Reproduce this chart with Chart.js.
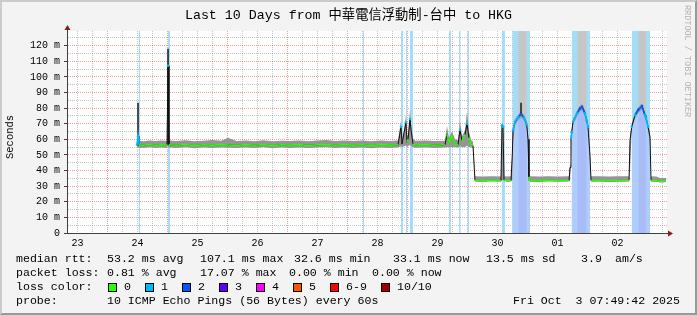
<!DOCTYPE html>
<html>
<head>
<meta charset="utf-8">
<script src="https://cdn.jsdelivr.net/npm/chart.js@4.4.1/dist/chart.umd.min.js"></script>
<style>
  html, body { margin: 0; padding: 0; background: #f3f3f3; }
  #frame { position: relative; width: 697px; height: 315px; background: #f3f3f3; overflow: hidden;
           font-family: "Liberation Mono", "DejaVu Sans Mono", monospace; color: #000; }
  #frame canvas { position: absolute; left: 0; top: 0; }
  .shade { position: absolute; left: 0; top: 0; width: 697px; height: 315px; box-sizing: border-box;
           border: 2px solid; border-color: #cbcbcb #999 #999 #cbcbcb; pointer-events: none; }
  .title { position: absolute; left: 0; top: 8px; width: 697px; text-align: center; font-size: 13.3px; line-height: 16px;
           font-family: "Liberation Mono", "Noto Sans CJK TC", monospace; white-space: pre; }
  .ylabel { position: absolute; left: 10px; top: 137px; font-size: 10.5px; white-space: nowrap;
            transform: translate(-50%, -50%) rotate(-90deg); }
  .credit { position: absolute; left: 682px; top: 5px; writing-mode: vertical-rl; font-size: 8.5px; color: #b4b4b4; white-space: pre; }
  .t { position: absolute; font-size: 11.6px; line-height: 14px; white-space: pre; }
  .sw { position: absolute; top: 283px; width: 7px; height: 7px; border: 1px solid #000; }
</style>
</head>
<body>
<div id="frame">
  <canvas id="chart" width="697" height="315"></canvas>
  <div class="title">Last 10 Days from 中華電信浮動制-台中 to HKG</div>
  <div class="ylabel">Seconds</div>
  <div class="credit">RRDTOOL / TOBI OETIKER</div>

  <span class="t" style="left:16px;top:252px">median rtt:</span>
  <span class="t" style="left:107px;top:252px">53.2 ms avg</span>
  <span class="t" style="left:200px;top:252px">107.1 ms max</span>
  <span class="t" style="left:294px;top:252px">32.6 ms min</span>
  <span class="t" style="left:393px;top:252px">33.1 ms now</span>
  <span class="t" style="left:486px;top:252px">13.5 ms sd</span>
  <span class="t" style="left:581px;top:252px">3.9</span>
  <span class="t" style="left:615px;top:252px">am/s</span>

  <span class="t" style="left:16px;top:266px">packet loss:</span>
  <span class="t" style="left:107px;top:266px">0.81 % avg</span>
  <span class="t" style="left:200px;top:266px">17.07 % max</span>
  <span class="t" style="left:289px;top:266px">0.00 % min</span>
  <span class="t" style="left:372px;top:266px">0.00 % now</span>

  <span class="t" style="left:16px;top:280px">loss color:</span>
  <div id="swatches"></div>

  <span class="t" style="left:16px;top:294px">probe:</span>
  <span class="t" style="left:107px;top:294px">10 ICMP Echo Pings (56 Bytes) every 60s</span>
  <span class="t" style="left:513px;top:294px">Fri Oct  3 07:49:42 2025</span>

  <div class="shade"></div>
</div>
<script>
// x values are fractional days since 23 Sep 00:00, window ends Fri Oct 3 07:49:42
const xStart = 0.3262;
const xEnd = 10.3262;
const yMax = 129.4;

const dayLabels = ['23', '24', '25', '26', '27', '28', '29', '30', '01', '02'];
const yLabels = ['0', '10 m', '20 m', '30 m', '40 m', '50 m', '60 m', '70 m', '80 m', '90 m', '100 m', '110 m', '120 m'];

const times = [
  1.493, 1.510, 1.526, 1.60, 1.70, 1.80, 1.90, 1.993, 2.010, 2.026,
  2.15, 2.30, 2.45, 2.60, 2.75, 2.90, 3.010, 3.15, 3.30, 3.45,
  3.60, 3.75, 3.90, 4.05, 4.20, 4.35, 4.50, 4.65, 4.80, 4.95,
  5.10, 5.25, 5.40, 5.55, 5.70, 5.843, 5.893, 5.910, 5.943, 5.976,
  5.993, 6.010, 6.043, 6.060, 6.093, 6.126, 6.30, 6.45, 6.626, 6.659,
  6.693, 6.743, 6.793, 6.843, 6.876, 6.910, 6.960, 6.993, 7.026, 7.060,
  7.093, 7.126, 7.25, 7.40, 7.559, 7.576, 7.593, 7.610, 7.660, 7.726,
  7.748, 7.760, 7.793, 7.848, 7.893, 7.943, 7.988, 8.010, 8.026, 8.043,
  8.20, 8.35, 8.50, 8.693, 8.710, 8.726, 8.738, 8.760, 8.831, 8.876,
  8.910, 8.960, 8.988, 9.010, 9.043, 9.060, 9.20, 9.35, 9.50, 9.693,
  9.710, 9.738, 9.793, 9.848, 9.910, 9.960, 9.976, 10.010, 10.043, 10.060,
  10.15, 10.21, 10.31
];

// median rtt (ms)
const median = [
  56.0, 62.0, 56.4, 56.2, 56.8, 56.1, 56.6, 56.3, 107.1, 56.5,
  56.2, 56.7, 56.0, 56.5, 56.3, 56.6, 56.4, 56.1, 56.6, 56.2,
  56.7, 56.0, 56.5, 56.3, 56.6, 56.1, 56.5, 56.8, 56.2, 56.6,
  56.3, 56.5, 56.0, 56.6, 56.3, 56.5, 68.0, 57.0, 64.0, 71.0,
  58.0, 60.0, 73.0, 66.0, 57.0, 56.4, 56.6, 56.2, 56.5, 63.0,
  58.0, 62.0, 57.0, 56.5, 66.0, 59.0, 63.0, 70.0, 61.0, 57.0,
  56.0, 33.6, 33.4, 33.7, 33.5, 69.0, 68.0, 34.0, 33.5, 33.6,
  50.0, 65.9, 71.3, 74.2, 76.2, 74.0, 69.5, 60.0, 36.0, 33.5,
  33.4, 33.7, 33.5, 33.6, 42.0, 60.0, 64.5, 71.3, 77.0, 79.8,
  80.9, 76.6, 72.0, 68.0, 49.0, 33.5, 33.6, 33.4, 33.5, 33.6,
  59.5, 68.0, 75.5, 79.0, 81.3, 75.5, 74.0, 68.0, 61.6, 33.5,
  33.5, 32.9, 33.0
];

// smoke: lowest and highest ping of each step (ms)
const smokeLo = [
  54.6, 55.0, 54.6, 54.5, 54.9, 54.4, 54.8, 54.5, 56.5, 54.7,
  54.5, 54.9, 54.3, 54.7, 54.5, 54.8, 54.6, 54.4, 54.8, 54.5,
  54.9, 54.3, 54.7, 54.5, 54.8, 54.4, 54.7, 54.9, 54.5, 54.8,
  54.5, 54.7, 54.3, 54.8, 54.5, 54.7, 55.5, 55.0, 55.5, 56.0,
  55.0, 55.5, 56.5, 55.5, 55.0, 54.6, 54.8, 54.5, 54.7, 55.0,
  55.0, 55.0, 55.0, 54.7, 55.5, 55.0, 55.0, 56.0, 55.0, 55.0,
  54.5, 33.0, 32.9, 33.1, 33.0, 34.0, 34.0, 33.2, 33.0, 33.0,
  34.0, 58.0, 69.0, 72.2, 74.2, 72.0, 67.5, 55.0, 33.5, 33.0,
  32.9, 33.1, 33.0, 33.0, 33.5, 45.0, 62.5, 69.3, 75.0, 77.8,
  78.9, 74.6, 70.0, 66.0, 45.0, 33.0, 33.0, 32.9, 33.0, 33.0,
  40.0, 66.0, 73.5, 77.0, 79.3, 73.5, 72.0, 66.0, 57.0, 33.0,
  33.0, 32.6, 32.6
];
const smokeHi = [
  58.6, 64.0, 59.1, 58.8, 59.3, 58.9, 59.2, 59.0, 110.0, 59.2,
  58.9, 59.4, 58.7, 59.1, 59.5, 59.1, 61.0, 58.9, 59.2, 58.8,
  59.4, 58.8, 59.1, 59.0, 59.3, 58.8, 59.2, 59.5, 58.9, 59.2,
  59.0, 59.2, 58.7, 59.2, 59.0, 59.2, 72.0, 60.5, 66.0, 75.5,
  62.0, 63.0, 79.0, 70.0, 60.5, 59.1, 59.2, 58.9, 59.1, 68.5,
  61.0, 65.0, 60.0, 59.5, 72.0, 62.0, 66.0, 78.0, 65.0, 59.5,
  58.6, 36.4, 36.2, 36.4, 36.2, 71.0, 70.0, 36.4, 36.2, 36.3,
  52.0, 67.5, 73.0, 75.8, 77.8, 75.6, 71.5, 63.0, 38.0, 36.3,
  36.2, 36.4, 36.2, 36.3, 44.0, 62.0, 66.5, 73.0, 78.7, 81.5,
  82.5, 78.5, 74.0, 70.0, 52.0, 36.3, 36.4, 36.2, 36.3, 36.3,
  61.0, 70.0, 77.0, 80.6, 83.0, 77.0, 75.8, 70.0, 63.5, 36.4,
  36.2, 35.2, 35.2
];

// lost pings (of 10) per step
const loss = [
  0, 1, 0, 0, 0, 0, 0, 0, 1, 0,
  0, 0, 0, 0, 0, 0, 0, 0, 0, 0,
  0, 0, 0, 0, 0, 0, 0, 0, 0, 0,
  0, 0, 0, 0, 0, 0, 1, 0, 0, 1,
  0, 0, 1, 0, 0, 0, 0, 0, 0, 0,
  0, 0, 0, 0, 1, 0, 0, 1, 0, 0,
  0, 0, 0, 0, 0, 1, 1, 0, 0, 0,
  0, 1, 1, 1, 2, 1, 1, 0, 0, 0,
  0, 0, 0, 0, 0, 0, 1, 1, 1, 2,
  2, 1, 1, 1, 0, 0, 0, 0, 0, 0,
  0, 1, 1, 2, 2, 1, 1, 1, 0, 0,
  0, 0, 0
];

// single tall outliers
const spikeTimes = [1.510, 2.010, 7.893];
const spikeLo = [56.0, 57.0, 76.0];
const spikeHi = [83.4, 118.0, 83.4];

// periods with packet loss (background shading)
const lossBands = [
  [1.518, 1.543], [2.004, 2.043], [5.259, 5.276], [5.893, 5.931], [5.976, 5.998],
  [6.043, 6.093], [6.693, 6.726], [6.859, 6.888], [6.998, 7.026], [7.571, 7.626]
];
const humpBands = [[7.748, 8.043], [8.738, 9.043], [9.738, 10.043]];
const greyColumns = [[7.848, 7.988], [8.831, 8.988], [9.848, 9.976]];

const lossColors = ['#26ff00', '#00b8ff', '#0059ff', '#5e00ff', '#ff00ff', '#ff5500', '#ff0000', '#a10000'];
const lossLegend = ['0', '1', '2', '3', '4', '5', '6-9', '10/10'];

// legend swatches
const swatchX = [108, 145, 182, 219, 256, 293, 330, 381];
const sw = document.getElementById('swatches');
lossLegend.forEach((lab, i) => {
  sw.insertAdjacentHTML('beforeend',
    `<div class="sw" style="left:${swatchX[i]}px;background:${lossColors[i]}"></div>` +
    `<span class="t" style="left:${swatchX[i] + 16}px;top:280px">${lab}</span>`);
});

function bandData(ranges) {
  const pts = [];
  ranges.forEach(([s, e]) => { pts.push({x: s, y: yMax}, {x: e, y: yMax}, {x: e, y: null}); });
  return pts;
}
function curveWithin(ranges) {
  const pts = [];
  ranges.forEach(([s, e]) => {
    times.forEach((t, i) => { if (t >= s - 1e-6 && t <= e + 1e-6) pts.push({x: t, y: median[i]}); });
    pts.push({x: e, y: null});
  });
  return pts;
}
const series = arr => times.map((t, i) => ({x: t, y: arr[i]}));

const xTickValues = [];
for (let q = 2; q <= 41; q++) xTickValues.push(q / 4);
const yTickValues = [];
for (let v = 0; v <= 125; v += 5) yTickValues.push(v);

const plain = {pointRadius: 0, borderWidth: 0, spanGaps: false};

const datasets = [
  {...plain, label: 'loss', data: bandData(lossBands.concat(humpBands)), backgroundColor: '#a6ddf6', fill: 'origin', order: 9},
  {...plain, label: 'hump', data: curveWithin(humpBands), backgroundColor: '#aecdfa', fill: 'origin', order: 8},
  {...plain, label: 'under', data: curveWithin(greyColumns), backgroundColor: '#a8bcf8', fill: 'origin', order: 7},
  {...plain, label: 'over', data: curveWithin(greyColumns), backgroundColor: '#c6c6c6', fill: 'end', order: 6},
  {...plain, label: 'smokeLo', data: series(smokeLo), fill: false, order: 5},
  {...plain, label: 'smokeHi', data: series(smokeHi), backgroundColor: '#959595', fill: 4, order: 5},
  {label: 'spikes', pointRadius: 0, borderWidth: 1.5, borderColor: '#1a1a1a', spanGaps: false, order: 3,
   data: spikeTimes.flatMap((t, i) => [{x: t, y: spikeLo[i]}, {x: t, y: spikeHi[i]}, {x: t, y: null}])},
  {label: 'median', data: series(median), pointRadius: 0, borderWidth: 1, borderColor: '#111', order: 2},
  {label: 'medianLoss', data: series(median), borderWidth: 1.6, order: 1,
   pointRadius: ctx => loss[ctx.dataIndex] > 0 ? 1.3 : 0,
   pointBorderWidth: 0,
   pointBackgroundColor: ctx => lossColors[loss[ctx.dataIndex]],
   segment: {
     borderColor: ctx => {
       const a = ctx.p0DataIndex, b = ctx.p1DataIndex;
       if (Math.abs(median[b] - median[a]) > 6) return 'rgba(0,0,0,0)';
       return lossColors[Math.max(loss[a], loss[b])];
     }
   }}
];

const plotFrame = {
  id: 'plotFrame',
  beforeDraw(chart) {
    const {ctx, chartArea: a} = chart;
    ctx.save();
    ctx.fillStyle = '#ffffff';
    ctx.fillRect(a.left, a.top, a.right - a.left, a.bottom - a.top);
    ctx.restore();
  },
  afterDraw(chart) {
    const {ctx, chartArea: a} = chart;
    ctx.save();
    ctx.strokeStyle = '#404040';
    ctx.lineWidth = 1;
    ctx.beginPath();
    ctx.moveTo(a.left + 0.5, a.top); ctx.lineTo(a.left + 0.5, a.top - 3);
    ctx.moveTo(a.right, a.bottom + 0.5); ctx.lineTo(a.right + 3, a.bottom + 0.5);
    ctx.stroke();
    ctx.fillStyle = '#8b1a1a';
    ctx.beginPath();
    ctx.moveTo(a.left + 0.5, a.top - 6); ctx.lineTo(a.left - 2.5, a.top - 1); ctx.lineTo(a.left + 3.5, a.top - 1);
    ctx.fill();
    ctx.beginPath();
    ctx.moveTo(a.right + 6, a.bottom + 0.5); ctx.lineTo(a.right + 1, a.bottom - 2.5); ctx.lineTo(a.right + 1, a.bottom + 3.5);
    ctx.fill();
    ctx.restore();
  }
};

const majorGrid = 'rgba(235, 0, 0, 0.38)';
const minorGrid = 'rgba(128, 128, 128, 0.45)';
const tickFont = {family: 'Liberation Mono', size: 10};

new Chart(document.getElementById('chart'), {
  type: 'line',
  data: {datasets},
  options: {
    responsive: false,
    animation: false,
    events: [],
    layout: {padding: {left: 0, right: 30, top: 31, bottom: 62}},
    plugins: {legend: {display: false}, tooltip: {enabled: false}},
    scales: {
      x: {
        type: 'linear', min: xStart, max: xEnd, offset: false, z: 1,
        afterFit: s => { s.height = 20; },
        afterBuildTicks: s => { s.ticks = xTickValues.map(v => ({value: v})); },
        grid: {
          color: c => (c.tick && c.tick.value % 1 === 0) ? majorGrid : minorGrid,
          drawTicks: false, lineWidth: 1
        },
        border: {color: '#404040', width: 1, dash: [1, 1]},
        ticks: {
          autoSkip: false, maxRotation: 0, padding: 4, color: '#000', font: tickFont,
          callback: v => (v % 1 === 0.5 ? dayLabels[Math.floor(v)] : '')
        }
      },
      y: {
        min: 0, max: yMax, z: 1,
        afterFit: s => { s.width = 67; },
        afterBuildTicks: s => { s.ticks = yTickValues.map(v => ({value: v})); },
        grid: {
          color: c => (c.tick && c.tick.value % 10 === 0) ? majorGrid : minorGrid,
          tickColor: c => (c.tick && c.tick.value % 10 === 0) ? '#404040' : 'rgba(0,0,0,0)',
          tickLength: 3, lineWidth: 1
        },
        border: {color: '#404040', width: 1, dash: [1, 1]},
        ticks: {
          autoSkip: false, padding: 4, color: '#000', font: tickFont,
          callback: v => (v % 10 === 0 ? yLabels[v / 10] : '')
        }
      }
    }
  },
  plugins: [plotFrame]
});
</script>
</body>
</html>
